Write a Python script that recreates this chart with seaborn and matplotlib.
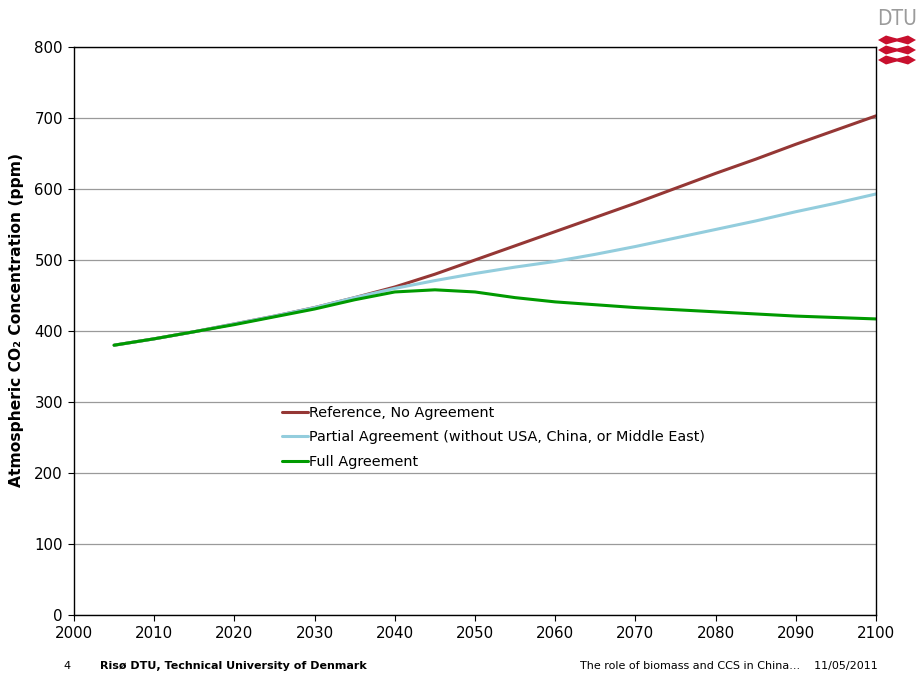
import matplotlib
matplotlib.use("Agg")
import matplotlib.pyplot as plt
from matplotlib.patches import Polygon
import seaborn as sns
import pandas as pd

years = [2005, 2010, 2015, 2020, 2025, 2030, 2035, 2040, 2045, 2050,
         2055, 2060, 2065, 2070, 2075, 2080, 2085, 2090, 2095, 2100]
reference = [380, 389, 399, 410, 421, 433, 447, 462, 480, 500,
             520, 540, 560, 580, 601, 622, 642, 663, 683, 703]
partial = [380, 389, 399, 410, 421, 433, 447, 460, 471, 481,
           490, 498, 508, 519, 531, 543, 555, 568, 580, 593]
full = [380, 389, 399, 409, 420, 431, 444, 455, 458, 455,
        447, 441, 437, 433, 430, 427, 424, 421, 419, 417]

series_names = ["Reference, No Agreement",
                "Partial Agreement (without USA, China, or Middle East)",
                "Full Agreement"]
series_colors = ["#953735", "#93CDDD", "#009A00"]
x_ticks = list(range(2000, 2101, 10))
y_ticks = list(range(0, 801, 100))

df = pd.DataFrame({
    "year": years * 3,
    "ppm": reference + partial + full,
    "scenario": [series_names[0]] * len(years) + [series_names[1]] * len(years)
                + [series_names[2]] * len(years),
})

sns.set_theme(style="white")
plt.rcParams["font.family"] = ["DejaVu Sans"]
plt.rcParams["text.color"] = "black"
plt.rcParams["axes.labelcolor"] = "black"

fig = plt.figure(figsize=(9.19, 6.75), dpi=100)
ax = fig.add_axes([74 / 919, 1 - 615 / 675, 802 / 919, 568 / 675])

sns.lineplot(data=df, x="year", y="ppm", hue="scenario", hue_order=series_names,
             palette=series_colors, linewidth=2.2, ax=ax, legend=True)

ax.set_xlim(2000, 2100)
ax.set_ylim(0, 800)
ax.set_xticks(x_ticks)
ax.set_yticks(y_ticks)
ax.tick_params(axis="both", labelsize=10.8, colors="black", length=4,
               width=0.8, direction="out", bottom=True, left=True, pad=4)
ax.yaxis.grid(True, color="#9A9A9A", linewidth=0.9)
ax.xaxis.grid(False)
for s in ax.spines.values():
    s.set_color("black")
    s.set_linewidth(1.0)
ax.set_xlabel("")
ax.set_ylabel("Atmospheric CO₂ Concentration (ppm)", fontsize=11.2,
              fontweight="bold", color="black")
ax.yaxis.set_label_coords(-0.062, 0.52)

leg = ax.legend(loc="upper left", bbox_to_anchor=(0.250, 0.380), frameon=False,
                fontsize=10.4, handlelength=1.8, handletextpad=0.1,
                labelspacing=0.7, borderpad=0)
for line in leg.get_lines():
    line.set_linewidth(2.2)
for t in leg.get_texts():
    t.set_color("black")

# footer
fig.text(63 / 919, 1 - 666 / 675, "4", fontsize=8, va="center", ha="left")
fig.text(100 / 919, 1 - 666 / 675, "Risø DTU, Technical University of Denmark",
         fontsize=8, fontweight="bold", va="center", ha="left")
fig.text(878 / 919, 1 - 666 / 675,
         "The role of biomass and CCS in China...    11/05/2011",
         fontsize=8, va="center", ha="right")

# DTU logo
fig.text(897 / 919, 1 - 19 / 675, "DTU", fontsize=15, color="#9B9B9B",
         ha="center", va="center", stretch="condensed")
for cy in (40, 50, 60):
    pts = [(878, cy), (886, cy - 4.5), (893, cy - 2.5), (897, cy - 1.5), (901, cy - 2.5),
           (908, cy - 4.5), (916, cy), (908, cy + 4.5), (901, cy + 2.5), (897, cy + 1.5),
           (893, cy + 2.5), (886, cy + 4.5)]
    pts = [(px / 919, 1 - py / 675) for px, py in pts]
    fig.patches.append(Polygon(pts, closed=True, transform=fig.transFigure,
                               facecolor="#C8102E", edgecolor="none"))

fig.savefig("out.png", dpi=100)
